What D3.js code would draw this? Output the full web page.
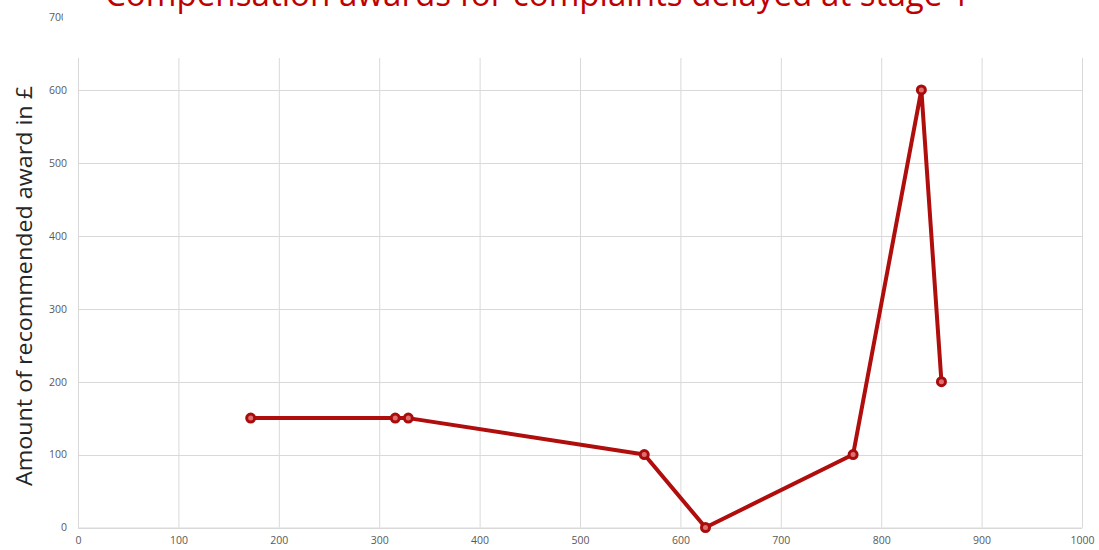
<!DOCTYPE html>
<html>
<head>
<meta charset="utf-8">
<script src="https://cdn.jsdelivr.net/npm/d3@7"></script>
<style>
  html, body { margin: 0; padding: 0; background: #fff; }
  svg { display: block; }
</style>
</head>
<body>
<svg id="chart" width="1099" height="550"></svg>
<script>
const titleText = "Compensation awards for complaints delayed at stage 1";
const yAxisLabel = "Amount of recommended award in £";
const daysDelayed = [172, 316, 329, 564, 625, 772, 840, 860];
const awards = [150, 150, 150, 100, 0, 100, 600, 200];
const xTicks = [0, 100, 200, 300, 400, 500, 600, 700, 800, 900, 1000];
const yTicks = [0, 100, 200, 300, 400, 500, 600, 700];

const svg = d3.select("#chart");
const x = d3.scaleLinear().domain([0, 1000]).range([78, 1082]);
const y = d3.scaleLinear().domain([0, 700]).range([527.5, 17]);

const gridColor = "#d9d9d9";
const tickColor = "#595959";

// vertical gridlines
svg.append("g")
  .selectAll("line").data(xTicks).join("line")
  .attr("x1", d => x(d) + 0.5).attr("x2", d => x(d) + 0.5)
  .attr("y1", y(0)).attr("y2", y(700))
  .attr("stroke", gridColor).attr("stroke-width", 1);

// horizontal gridlines
svg.append("g")
  .selectAll("line").data(yTicks).join("line")
  .attr("x1", x(0)).attr("x2", x(1000))
  .attr("y1", d => Math.round(y(d)) + 0.5).attr("y2", d => Math.round(y(d)) + 0.5)
  .attr("stroke", gridColor).attr("stroke-width", 1);

// axes
const xAxis = svg.append("g")
  .attr("transform", `translate(0,${y(0)})`)
  .call(d3.axisBottom(x).tickValues(xTicks).tickSize(0).tickPadding(9).tickFormat(d3.format("d")));
const yAxis = svg.append("g")
  .attr("transform", `translate(${x(0)},0)`)
  .call(d3.axisLeft(y).tickValues(yTicks).tickSize(0).tickPadding(11).tickFormat(d3.format("d")));
[xAxis, yAxis].forEach(g => {
  g.select(".domain").attr("stroke", gridColor);
  g.selectAll("text")
    .attr("fill", tickColor)
    .style("font-family", "'Open Sans', 'Liberation Sans', sans-serif")
    .style("font-size", "10.5px");
});

// line
const line = d3.line().x((d, i) => x(daysDelayed[i])).y(d => y(d));
svg.append("path")
  .datum(awards)
  .attr("d", line)
  .attr("fill", "none")
  .attr("stroke", "#b00d0d")
  .attr("stroke-width", 4)
  .attr("stroke-linejoin", "round");

svg.append("g")
  .selectAll("circle").data(awards).join("circle")
  .attr("cx", (d, i) => x(daysDelayed[i]))
  .attr("cy", d => y(d))
  .attr("r", 4)
  .attr("fill", "#e07070")
  .attr("stroke", "#a80c0c")
  .attr("stroke-width", 3);

// title panel (covers the top of the plot)
svg.append("rect")
  .attr("x", 63).attr("y", 0).attr("width", 1099 - 63).attr("height", 58)
  .attr("fill", "#fff");

svg.append("text")
  .attr("x", 105).attr("y", 6)
  .attr("textLength", 865).attr("lengthAdjust", "spacingAndGlyphs")
  .attr("fill", "#c00000")
  .style("font-family", "'Open Sans', 'Liberation Sans', sans-serif")
  .style("font-size", "34px")
  .text(titleText);

// y axis title
svg.append("text")
  .attr("transform", `translate(32,${286}) rotate(-90)`)
  .attr("text-anchor", "middle")
  .attr("textLength", 400).attr("lengthAdjust", "spacingAndGlyphs")
  .attr("fill", "#262626")
  .style("font-family", "'Open Sans', 'Liberation Sans', sans-serif")
  .style("font-size", "21px")
  .text(yAxisLabel);
</script>
</body>
</html>
